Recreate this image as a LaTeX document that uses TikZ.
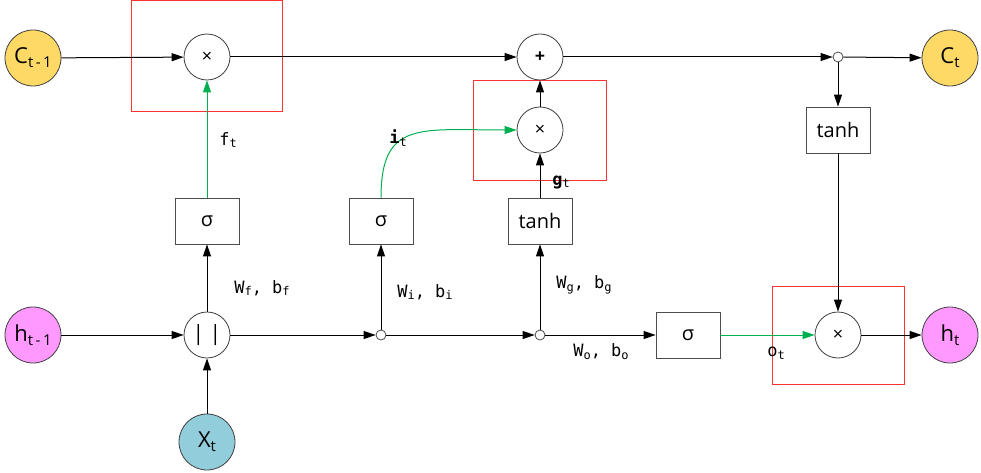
\documentclass[tikz,border=0pt]{standalone}
\usepackage{fontspec}
\setmainfont{Open Sans}
\newfontfamily\monof{DejaVu Sans Mono}
\usetikzlibrary{arrows.meta}
\definecolor{cyel}{HTML}{FFD966}
\definecolor{cpink}{HTML}{FF99FF}
\definecolor{cblue}{HTML}{92CDDC}
\definecolor{grn}{HTML}{00B050}
\definecolor{rbox}{HTML}{FF3333}
\newcommand\sbs[1]{\raisebox{-0.35ex}{\fontsize{15}{15}\selectfont #1}}
\newcommand\lsb[1]{\raisebox{-0.3ex}{\fontsize{12}{12}\selectfont #1}}
\begin{document}
\begin{tikzpicture}[x=1pt,y=-1pt,
 big/.style={circle,draw=black!75,line width=0.8pt,minimum size=56pt,inner sep=0pt,font=\fontsize{22}{22}\selectfont},
 op/.style={circle,draw=black!75,line width=0.8pt,fill=white,minimum size=46pt,inner sep=0pt,font=\fontsize{18}{18}\selectfont},
 gate/.style={rectangle,draw=black!70,line width=0.8pt,fill=white,minimum width=64pt,minimum height=46pt,inner sep=0pt,font=\fontsize{20}{22}\selectfont},
 dot/.style={circle,draw=black!70,line width=0.8pt,fill=white,minimum size=10pt,inner sep=0pt},
 arr/.style={-{Triangle[length=12pt,width=8pt]},line width=1pt},
 garr/.style={-{Triangle[length=12pt,width=8pt,fill=grn]},draw=grn,line width=1pt},
 lbl/.style={font=\monof\fontsize{17}{17}\selectfont,inner sep=0pt},
 redbox/.style={draw=rbox,line width=1pt}]
\useasboundingbox (0,0) rectangle (981,473);
\fill[white] (0,0) rectangle (981,473);
% red highlight boxes
\draw[redbox] (131,1) rectangle (282,112);
\draw[redbox] (473,81) rectangle (606,180);
\draw[redbox] (772,286) rectangle (904,384);
% nodes
\node[big,fill=cyel] (cprev) at (33,58) {C\sbs{t\,-\,1}};
\node[op] (mulf) at (207,57) {×};
\node[op] (plus) at (540,57) {\textbf{+}};
\node[op] (muli) at (540,130) {×};
\node[dot] (dc) at (838,57) {};
\node[big,fill=cyel] (ct) at (950,58) {C\sbs{t}};
\node[gate] (tanhc) at (838,130) {tanh};
\node[gate] (sigf) at (207,221) {σ};
\node[gate] (sigi) at (381,221) {σ};
\node[gate] (tanhg) at (540,221) {tanh};
\node[big,fill=cpink] (hprev) at (33,335) {h\sbs{t\,-\,1}};
\node[op,font=\fontsize{21}{22}\selectfont] (cat) at (207,335) {| |};
\node[dot] (d1) at (381,335) {};
\node[dot] (d2) at (540,335) {};
\node[gate] (sigo) at (688,335) {σ};
\node[op] (mulo) at (838,335) {×};
\node[big,fill=cpink] (ht) at (950,335) {h\sbs{t}};
\node[big,fill=cblue] (xt) at (207,442) {X\sbs{t}};
% connectors
\draw[arr] (cprev) -- (mulf);
\draw[arr] (mulf) -- (plus);
\draw[arr] (plus) -- (dc);
\draw[arr] (dc) -- (ct);
\draw[arr] (dc) -- (tanhc);
\draw[arr] (tanhc) -- (mulo);
\draw[arr] (mulo) -- (ht);
\draw[arr] (hprev) -- (cat);
\draw[arr] (xt) -- (cat);
\draw[arr] (cat) -- (sigf);
\draw[arr] (cat) -- (d1);
\draw[arr] (d1) -- (sigi);
\draw[arr] (d1) -- (d2);
\draw[arr] (d2) -- (tanhg);
\draw[arr] (d2) -- (sigo);
\draw[arr] (tanhg) -- (muli);
\draw[arr] (muli) -- (plus);
\draw[garr] (sigf) -- (mulf);
\draw[garr] (sigo) -- (mulo);
\draw[garr] (sigi.north) .. controls (381,120) and (420,130) .. (muli.west);
% labels
\node[lbl] (lf) at (228,140) {f\lsb{t}};
\node[lbl] (li) at (398,138) {\textbf{i}\lsb{t}};
\node[lbl] (lg) at (561,182) {\textbf{g}\lsb{t}};
\node[lbl] (lo) at (776,353) {o\lsb{t}};
\node[lbl] (lwf) at (262,288) {W\lsb{f}, b\lsb{f}};
\node[lbl] (lwi) at (425,292) {W\lsb{i}, b\lsb{i}};
\node[lbl] (lwg) at (584,285) {W\lsb{g}, b\lsb{g}};
\node[lbl] (lwo) at (601,352) {W\lsb{o}, b\lsb{o}};
\end{tikzpicture}
\end{document}
